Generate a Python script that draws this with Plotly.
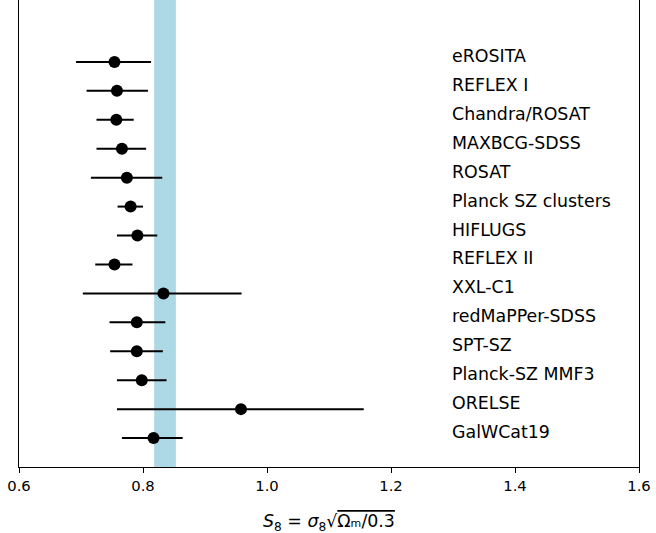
import plotly.graph_objects as go

surveys = ["eROSITA", "REFLEX I", "Chandra/ROSAT", "MAXBCG-SDSS", "ROSAT",
           "Planck SZ clusters", "HIFLUGS", "REFLEX II", "XXL-C1",
           "redMaPPer-SDSS", "SPT-SZ", "Planck-SZ MMF3", "ORELSE", "GalWCat19"]
s8_center = [0.754, 0.758, 0.757, 0.766, 0.774, 0.780, 0.791, 0.754, 0.833,
             0.790, 0.790, 0.798, 0.958, 0.817]
s8_low = [0.692, 0.709, 0.725, 0.725, 0.716, 0.759, 0.758, 0.723, 0.703,
          0.746, 0.747, 0.758, 0.758, 0.766]
s8_high = [0.813, 0.808, 0.785, 0.805, 0.831, 0.800, 0.823, 0.783, 0.959,
           0.836, 0.832, 0.838, 1.156, 0.864]
band_low, band_high = 0.818, 0.853
label_x = 1.3

n = len(surveys)
ypos = [n - i for i in range(n)]
err_plus = [h - c for h, c in zip(s8_high, s8_center)]
err_minus = [c - l for c, l in zip(s8_center, s8_low)]

font = "DejaVu Sans, Verdana, sans-serif"

fig = go.Figure()
fig.add_shape(type="rect", xref="x", yref="paper", x0=band_low, x1=band_high,
              y0=0, y1=1, fillcolor="#add8e6", line_width=0, layer="below")
fig.add_trace(go.Scatter(
    x=s8_center, y=ypos, mode="markers",
    marker=dict(color="black", size=12),
    error_x=dict(type="data", array=err_plus, arrayminus=err_minus,
                 color="black", thickness=2, width=0),
    showlegend=False, hoverinfo="skip"))

for name, y in zip(surveys, ypos):
    fig.add_annotation(x=label_x, y=y, text=name, showarrow=False,
                       xanchor="left", yanchor="middle", yshift=6, xshift=-3,
                       font=dict(family=font, size=17.4, color="black"))

fig.add_annotation(
    xref="paper", yref="paper", x=0.5, y=0, yshift=-55, showarrow=False,
    xanchor="center", yanchor="middle",
    text="<i>S</i><sub>8</sub> = <i>σ</i><sub>8</sub>√<span style='text-decoration:overline'>Ωₘ/0.3</span>",
    font=dict(family=font, size=17.4, color="black"))

fig.update_xaxes(range=[0.6, 1.6], tickvals=[0.6, 0.8, 1.0, 1.2, 1.4, 1.6],
                 ticktext=["0.6", "0.8", "1.0", "1.2", "1.4", "1.6"],
                 showgrid=False, zeroline=False, showline=True,
                 linecolor="black", linewidth=1, ticks="outside", ticklen=5,
                 tickcolor="black", tickwidth=1,
                 tickfont=dict(family=font, size=14.8, color="black"))
fig.update_yaxes(range=[0, 16.14], showticklabels=False, ticks="",
                 showgrid=False, zeroline=False, showline=True, mirror=True,
                 linecolor="black", linewidth=1)
fig.update_layout(width=656, height=533,
                  margin=dict(l=19, r=17, t=0, b=66),
                  plot_bgcolor="white", paper_bgcolor="white")
fig.write_html("out.html")
